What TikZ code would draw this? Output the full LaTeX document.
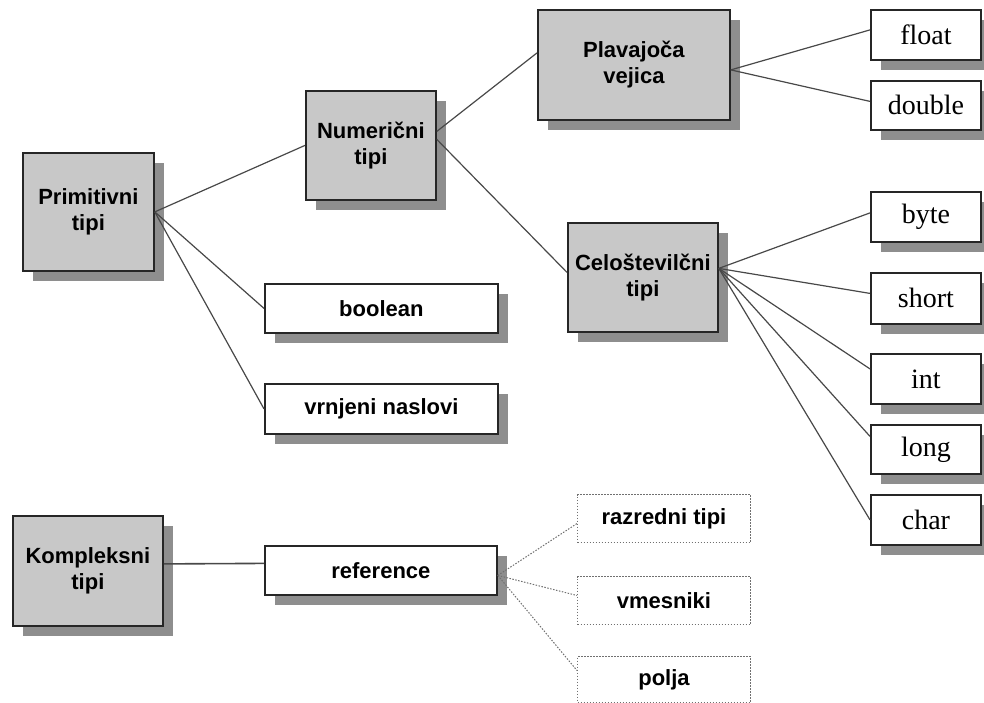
\documentclass[tikz,border=0pt]{standalone}
\usepackage{fontspec}
\setmainfont{Liberation Sans}
\newfontfamily\serifface{Liberation Serif}
\usetikzlibrary{shadows}
\definecolor{boxgrey}{HTML}{C8C8C8}
\definecolor{shadowgrey}{HTML}{8E8E8E}
\definecolor{edgeline}{HTML}{262626}
\definecolor{linkline}{HTML}{484848}
\definecolor{dotline}{HTML}{707070}

\begin{document}
\begin{tikzpicture}[x=1pt,y=-1pt,
  basebox/.style={draw=edgeline, line width=1.8pt, inner sep=0pt, align=center,
    anchor=north west,
    drop shadow={shadow xshift=10pt, shadow yshift=-10pt, fill=shadowgrey, opacity=1}},
  greybox/.style={basebox, fill=boxgrey, font=\bfseries\fontsize{22}{26}\selectfont},
  whitebox/.style={basebox, fill=white, font=\bfseries\fontsize{22}{26}\selectfont},
  typebox/.style={basebox, fill=white, font=\serifface\fontsize{28}{30}\selectfont},
  dotbox/.style={draw=dotline, line width=1pt, dash pattern=on 1.5pt off 1.5pt,
    inner sep=0pt, anchor=north west, fill=white, font=\bfseries\fontsize{22}{26}\selectfont},
  link/.style={draw=linkline, line width=1.2pt},
  dotlink/.style={draw=dotline, line width=1pt, dash pattern=on 1.5pt off 1.5pt}]

\useasboundingbox (0,0) rectangle (984,703);

% primitive types
\node[greybox, minimum width=131pt, minimum height=118pt] (prim) at (22,152) {Primitivni\\tipi};
\node[greybox, minimum width=130pt, minimum height=109pt] (num) at (305,90) {Numerični\\tipi};
\node[greybox, minimum width=192pt, minimum height=110pt] (plav) at (537,9) {Plavajoča\\vejica};
\node[greybox, minimum width=150pt, minimum height=109pt] (celo) at (567,222) {Celoštevilčni\\tipi};

\node[typebox, minimum width=110pt, minimum height=50pt] (float) at (870,9) {float};
\node[typebox, minimum width=110pt, minimum height=49pt] (double) at (870,80) {double};
\node[typebox, minimum width=110pt, minimum height=50pt] (byte) at (870,191) {byte};
\node[typebox, minimum width=110pt, minimum height=51pt] (short) at (870,272) {short};
\node[typebox, minimum width=110pt, minimum height=50pt] (int) at (870,353) {int};
\node[typebox, minimum width=110pt, minimum height=49pt] (long) at (870,424) {long};
\node[typebox, minimum width=110pt, minimum height=50pt] (char) at (870,494) {char};

\node[whitebox, minimum width=233pt, minimum height=49pt] (bool) at (264,283) {boolean};
\node[whitebox, minimum width=233pt, minimum height=50pt] (vrn) at (264,383) {vrnjeni naslovi};

% complex types
\node[greybox, minimum width=150pt, minimum height=110pt] (komp) at (12,515) {Kompleksni\\tipi};
\node[whitebox, minimum width=232pt, minimum height=49pt] (ref) at (264,545) {reference};

\node[dotbox, minimum width=173pt, minimum height=48pt] (razr) at (577,494) {razredni tipi};
\node[dotbox, minimum width=173pt, minimum height=48pt] (vmes) at (577,576) {vmesniki};
\node[dotbox, minimum width=173pt, minimum height=46pt] (polja) at (577,656) {polja};

% connectors
\draw[link] (prim.east) -- (num.west);
\draw[link] (prim.east) -- (bool.west);
\draw[link] (prim.east) -- (vrn.west);

\draw[link] ([yshift=14pt]num.east) -- ([yshift=12pt]plav.west);
\draw[link] ([yshift=6pt]num.east) -- ([yshift=5pt]celo.west);

\draw[link] ([yshift=-5pt]plav.east) -- ([yshift=5pt]float.west);
\draw[link] ([yshift=-5pt]plav.east) -- ([yshift=4pt]double.west);

\draw[link] ([yshift=9pt]celo.east) -- ([yshift=4pt]byte.west);
\draw[link] ([yshift=9pt]celo.east) -- ([yshift=5pt]short.west);
\draw[link] ([yshift=9pt]celo.east) -- ([yshift=10pt]int.west);
\draw[link] ([yshift=9pt]celo.east) -- ([yshift=13pt]long.west);
\draw[link] ([yshift=9pt]celo.east) -- (char.west);

\draw[link, line width=1.6pt] ([yshift=7pt]komp.east) -- ([yshift=7pt]ref.west);

\draw[dotlink] ([yshift=-5pt]ref.east) -- ([yshift=-5pt]razr.west);
\draw[dotlink] ([yshift=-5pt]ref.east) -- ([yshift=5pt]vmes.west);
\draw[dotlink] ([yshift=-5pt]ref.east) -- ([yshift=9pt]polja.west);

\end{tikzpicture}
\end{document}
